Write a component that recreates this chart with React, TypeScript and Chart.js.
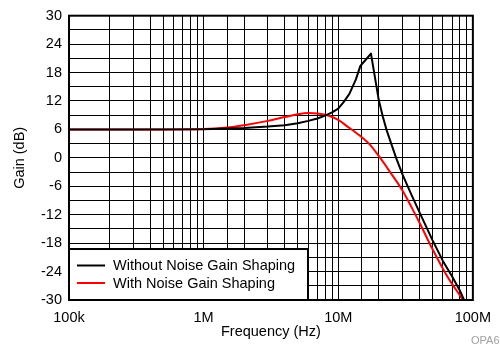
import React, { useEffect, useRef } from "react";
import { Chart, registerables } from "chart.js";

Chart.register(...registerables);

// Without Noise Gain Shaping (black)
const blackFreq = [1e5, 3e5, 1e6, 2e6, 3e6, 4e6, 5e6, 6e6, 7e6, 8e6, 9e6, 1e7, 1.1e7, 1.21e7, 1.35e7, 1.46e7, 1.6e7, 1.75e7, 2.0e7, 2.14e7, 2.29e7, 2.49e7, 2.69e7, 3.0e7, 3.5e7, 4.0e7, 4.5e7, 5.0e7, 6.0e7, 7.0e7, 8.0e7, 8.6e7];
const blackGain = [6.0, 6.0, 6.05, 6.3, 6.6, 6.9, 7.3, 7.8, 8.3, 8.9, 9.6, 10.4, 11.8, 13.5, 16.5, 19.4, 20.7, 22.0, 12.2, 8.8, 5.8, 2.8, 0.0, -3.5, -7.8, -11.4, -14.5, -17.3, -21.8, -25.0, -28.0, -30];

// With Noise Gain Shaping (red)
const redFreq = [1e5, 3e5, 1e6, 1.5e6, 2e6, 3e6, 4e6, 5e6, 6e6, 7e6, 8.5e6, 1e7, 1.16e7, 1.4e7, 1.73e7, 2.0e7, 2.4e7, 3.0e7, 3.5e7, 4.0e7, 5.0e7, 6.3e7, 7.0e7, 8.17e7, 8.4e7];
const redGain = [6.0, 6.0, 6.1, 6.4, 6.9, 7.8, 8.6, 9.2, 9.45, 9.35, 8.9, 8.0, 6.7, 5.0, 2.7, 0.4, -2.8, -6.9, -10.4, -13.6, -19.2, -24.5, -26.6, -29.4, -30];

const seriesNames = ["Without Noise Gain Shaping", "With Noise Gain Shaping"];
const seriesColors = ["#000000", "#ff0000"];

const xTickValues = [1e5, 1e6, 1e7, 1e8];
const xTickLabels = ["100k", "1M", "10M", "100M"];
const yMin = -30;
const yMax = 30;
const yGridStep = 3;
const yLabelStep = 6;

const xTitle = "Frequency (Hz)";
const yTitle = "Gain (dB)";
const watermark = "OPA656";

const FONT = "'Liberation Sans', Arial, Helvetica, sans-serif";

export default function App() {
  const ref = useRef<HTMLCanvasElement | null>(null);

  useEffect(() => {
    const canvas = ref.current;
    if (!canvas) return;

    const toPts = (f: number[], g: number[]) => f.map((x, i) => ({ x, y: g[i] }));

    const overlay = {
      id: "overlay",
      afterDatasetsDraw(chart: any) {
        const { ctx, chartArea } = chart;
        const { left, top, right, bottom } = chartArea;
        ctx.save();
        // frame
        ctx.strokeStyle = "#000";
        ctx.lineWidth = 2;
        ctx.strokeRect(left, top, right - left, bottom - top);

        // legend box
        const lx = left;
        const ly = 249;
        const lw = 308 - left;
        const lh = bottom - ly;
        ctx.fillStyle = "#fff";
        ctx.fillRect(lx, ly, lw, lh);
        ctx.strokeStyle = "#000";
        ctx.lineWidth = 2;
        ctx.strokeRect(lx, ly, lw, lh);
        ctx.font = `14.5px ${FONT}`;
        ctx.textBaseline = "middle";
        ctx.textAlign = "left";
        const rows = [265.5, 283];
        seriesNames.forEach((name, i) => {
          ctx.strokeStyle = seriesColors[i];
          ctx.lineWidth = 2;
          ctx.beginPath();
          ctx.moveTo(77, rows[i]);
          ctx.lineTo(105, rows[i]);
          ctx.stroke();
          ctx.fillStyle = "#000";
          ctx.fillText(name, 113, rows[i] + 0.5);
        });

        // watermark
        ctx.font = `11px ${FONT}`;
        ctx.fillStyle = "#a0a0a0";
        ctx.textBaseline = "middle";
        ctx.fillText(watermark, 471, 341);
        ctx.restore();
      },
    };

    const chart = new Chart(canvas, {
      type: "line",
      data: {
        datasets: [
          {
            label: seriesNames[0],
            data: toPts(blackFreq, blackGain),
            borderColor: seriesColors[0],
            borderWidth: 2,
            pointRadius: 0,
            tension: 0,
            borderJoinStyle: "round",
          },
          {
            label: seriesNames[1],
            data: toPts(redFreq, redGain),
            borderColor: seriesColors[1],
            borderWidth: 2,
            pointRadius: 0,
            cubicInterpolationMode: "monotone",
          },
        ],
      },
      options: {
        responsive: false,
        animation: false,
        layout: { padding: { top: 11, right: 23, left: 0, bottom: 0 } },
        plugins: {
          legend: { display: false },
          tooltip: { enabled: false },
        },
        scales: {
          x: {
            type: "logarithmic",
            min: xTickValues[0],
            max: xTickValues[xTickValues.length - 1],
            border: { display: false },
            grid: { color: "#000", lineWidth: 1, drawTicks: false },
            ticks: {
              autoSkip: false,
              maxRotation: 0,
              padding: 9,
              color: "#000",
              font: { family: FONT, size: 14.5 },
              callback: (v: any) => {
                const idx = xTickValues.findIndex((t) => Math.abs(t - Number(v)) / t < 1e-6);
                return idx >= 0 ? xTickLabels[idx] : "";
              },
            },
            title: {
              display: true,
              text: xTitle,
              color: "#000",
              font: { family: FONT, size: 14.5 },
              padding: { top: 0, bottom: 6 },
            },
            afterFit: (s: any) => {
              s.height = 47;
            },
          },
          y: {
            type: "linear",
            min: yMin,
            max: yMax,
            border: { display: false },
            grid: { color: "#000", lineWidth: 1, drawTicks: false },
            ticks: {
              stepSize: yGridStep,
              autoSkip: false,
              padding: 7,
              color: "#000",
              font: { family: FONT, size: 14.5 },
              callback: (v: any) => (Number(v) % yLabelStep === 0 ? String(v) : ""),
            },
            title: {
              display: true,
              text: yTitle,
              color: "#000",
              font: { family: FONT, size: 14.5 },
              padding: { top: 11, bottom: 0 },
            },
            afterFit: (s: any) => {
              s.width = 69;
            },
          },
        },
      },
      plugins: [overlay],
    });

    return () => chart.destroy();
  }, []);

  return (
    <div style={{ position: "fixed", left: 0, top: 0, width: 500, height: 347, background: "#fff" }}>
      <canvas ref={ref} width={500} height={347} style={{ display: "block" }} />
    </div>
  );
}
